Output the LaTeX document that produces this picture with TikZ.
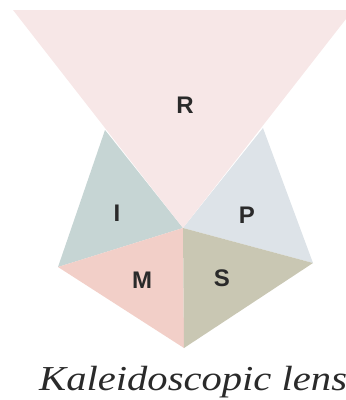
\documentclass[tikz,border=0pt]{standalone}
\usepackage{fontspec}
\setmainfont{Liberation Serif}
\newfontfamily\labelfont{Liberation Sans}
\definecolor{rcol}{HTML}{F7E7E7}
\definecolor{icol}{HTML}{C6D5D4}
\definecolor{pcol}{HTML}{DDE3E8}
\definecolor{mcol}{HTML}{F2CFC8}
\definecolor{scol}{HTML}{C9C7B3}
\definecolor{txt}{HTML}{2A2A2A}
\begin{document}
\begin{tikzpicture}[x=1bp,y=-1bp,
  lbl/.style={font=\labelfont\bfseries\fontsize{24bp}{28bp}\selectfont, text=txt, inner sep=0pt}]
\useasboundingbox (0,0) rectangle (346,400);
\clip (0,0) rectangle (346,400);
\coordinate (C) at (183,228);
\coordinate (TL) at (105,130);
\coordinate (L) at (58,267);
\coordinate (B) at (184,348);
\coordinate (R) at (313,263);
\coordinate (TR) at (263,128);
\coordinate (RL) at (13,10);
\coordinate (RR) at (353,10);
\fill[icol] (C) -- (TL) -- (L) -- cycle;
\fill[pcol] (C) -- (TR) -- (R) -- cycle;
\fill[mcol] (C) -- (L) -- (B) -- cycle;
\fill[scol] (C) -- (B) -- (R) -- cycle;
\fill[rcol] (RL) -- (RR) -- (C) -- cycle;
\node[lbl] (lr) at (185,105) {R};
\node[lbl] (li) at (117,213) {I};
\node[lbl] (lp) at (247,215) {P};
\node[lbl] (lm) at (142,280) {M};
\node[lbl] (ls) at (222,278) {S};
\node[anchor=base west, inner sep=0pt, text=txt] (cap) at (39,390)
  {\scalebox{1.16}[1]{\itshape\fontsize{35bp}{40bp}\selectfont Kaleidoscopic lens}};
\end{tikzpicture}
\end{document}
